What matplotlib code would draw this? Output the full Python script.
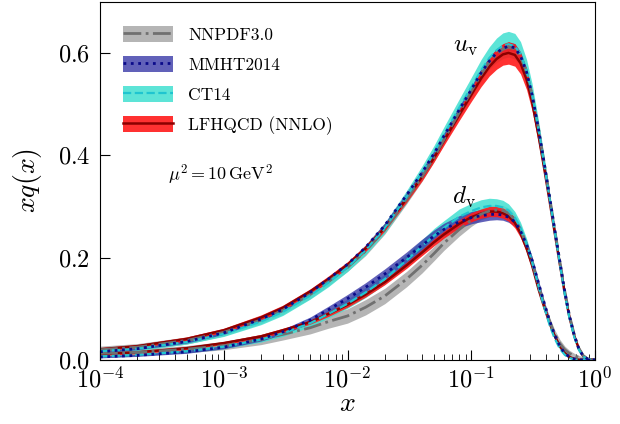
import numpy as np
import matplotlib
matplotlib.use('Agg')
import matplotlib.pyplot as plt
from matplotlib.patches import Patch
from matplotlib.lines import Line2D

plt.rcParams['font.family'] = 'serif'
plt.rcParams['font.serif'] = ['cmr10']
plt.rcParams['mathtext.fontset'] = 'cm'
plt.rcParams['axes.formatter.use_mathtext'] = True
plt.rcParams['axes.unicode_minus'] = False

# x grid and values
x = [1e-4, 2e-4, 5e-4, 1e-3, 2e-3, 3e-3, 5e-3, 7e-3, 0.01, 0.014,
     0.02, 0.03, 0.04, 0.05, 0.06, 0.08, 0.1, 0.12, 0.14, 0.16,
     0.18, 0.2, 0.225, 0.25, 0.28, 0.31, 0.35, 0.39, 0.43, 0.47,
     0.52, 0.57, 0.62, 0.68, 0.74, 0.8, 0.87, 1.0]

# u_v
uv_lfh = [0.021, 0.027, 0.041, 0.058, 0.083, 0.102, 0.134, 0.158, 0.186, 0.218,
          0.258, 0.315, 0.358, 0.395, 0.428, 0.479, 0.518, 0.550, 0.573, 0.588,
          0.597, 0.600, 0.596, 0.580, 0.548, 0.505, 0.438, 0.372, 0.310, 0.252,
          0.187, 0.130, 0.085, 0.047, 0.022, 0.008, 0.002, 0.0]
uv_lfh_err = [0.003, 0.003, 0.004, 0.004, 0.005, 0.005, 0.005, 0.006, 0.006, 0.006,
              0.006, 0.007, 0.008, 0.008, 0.009, 0.011, 0.013, 0.016, 0.018, 0.020,
              0.021, 0.022, 0.022, 0.021, 0.020, 0.018, 0.016, 0.014, 0.012, 0.010,
              0.008, 0.006, 0.004, 0.003, 0.002, 0.001, 0.0, 0.0]
uv_ct = [0.017, 0.022, 0.035, 0.051, 0.075, 0.094, 0.126, 0.151, 0.181, 0.215,
         0.258, 0.319, 0.366, 0.405, 0.440, 0.493, 0.533, 0.566, 0.590, 0.605,
         0.614, 0.617, 0.613, 0.598, 0.565, 0.520, 0.450, 0.380, 0.315, 0.255,
         0.188, 0.128, 0.083, 0.045, 0.020, 0.007, 0.0015, 0.0]
uv_ct_err = [0.004, 0.004, 0.004, 0.005, 0.006, 0.007, 0.007, 0.008, 0.008, 0.009,
             0.010, 0.012, 0.013, 0.014, 0.015, 0.017, 0.019, 0.021, 0.022, 0.024,
             0.025, 0.025, 0.025, 0.024, 0.022, 0.020, 0.017, 0.014, 0.012, 0.010,
             0.008, 0.006, 0.004, 0.003, 0.002, 0.001, 0.0005, 0.0]
uv_mmht = [0.016, 0.022, 0.036, 0.053, 0.080, 0.099, 0.132, 0.158, 0.187, 0.220,
           0.263, 0.322, 0.366, 0.403, 0.437, 0.489, 0.528, 0.561, 0.584, 0.600,
           0.609, 0.613, 0.610, 0.594, 0.562, 0.518, 0.450, 0.382, 0.318, 0.258,
           0.192, 0.133, 0.087, 0.048, 0.022, 0.008, 0.002, 0.0]
uv_mmht_err = [0.002, 0.002, 0.003, 0.003, 0.003, 0.004, 0.004, 0.004, 0.004, 0.005,
               0.005, 0.005, 0.006, 0.006, 0.006, 0.007, 0.007, 0.008, 0.008, 0.008,
               0.008, 0.008, 0.008, 0.008, 0.008, 0.007, 0.007, 0.006, 0.005, 0.005,
               0.004, 0.003, 0.002, 0.002, 0.001, 0.0005, 0.0, 0.0]
uv_nnpdf = [0.020, 0.025, 0.038, 0.054, 0.078, 0.097, 0.128, 0.153, 0.181, 0.213,
            0.255, 0.314, 0.358, 0.396, 0.430, 0.484, 0.525, 0.558, 0.582, 0.598,
            0.607, 0.611, 0.608, 0.593, 0.562, 0.518, 0.450, 0.382, 0.318, 0.258,
            0.192, 0.134, 0.088, 0.049, 0.023, 0.009, 0.002, 0.0]
uv_nnpdf_err = [0.007, 0.007, 0.007, 0.007, 0.007, 0.008, 0.008, 0.008, 0.008, 0.009,
                0.009, 0.009, 0.009, 0.009, 0.009, 0.009, 0.009, 0.009, 0.009, 0.009,
                0.009, 0.009, 0.009, 0.009, 0.009, 0.008, 0.008, 0.007, 0.007, 0.006,
                0.006, 0.005, 0.004, 0.003, 0.003, 0.002, 0.001, 0.0]

# d_v
dv_lfh = [0.012, 0.015, 0.023, 0.033, 0.046, 0.058, 0.074, 0.090, 0.108, 0.128,
          0.152, 0.185, 0.210, 0.230, 0.245, 0.266, 0.279, 0.286, 0.290, 0.290,
          0.287, 0.281, 0.268, 0.248, 0.218, 0.185, 0.138, 0.102, 0.072, 0.048,
          0.027, 0.014, 0.006, 0.002, 0.0006, 0.0001, 0.0, 0.0]
dv_lfh_err = [0.003, 0.003, 0.003, 0.003, 0.004, 0.004, 0.004, 0.005, 0.005, 0.005,
              0.005, 0.006, 0.006, 0.007, 0.007, 0.008, 0.009, 0.009, 0.010, 0.010,
              0.010, 0.010, 0.010, 0.009, 0.008, 0.008, 0.007, 0.006, 0.005, 0.004,
              0.003, 0.002, 0.001, 0.0005, 0.0, 0.0, 0.0, 0.0]
dv_ct = [0.007, 0.010, 0.017, 0.026, 0.040, 0.052, 0.072, 0.090, 0.110, 0.132,
         0.158, 0.195, 0.222, 0.243, 0.258, 0.280, 0.291, 0.298, 0.301, 0.301,
         0.298, 0.292, 0.278, 0.258, 0.227, 0.192, 0.143, 0.102, 0.068, 0.043,
         0.022, 0.010, 0.004, 0.0013, 0.0003, 0.0, 0.0, 0.0]
dv_ct_err = [0.002, 0.002, 0.003, 0.004, 0.005, 0.006, 0.007, 0.008, 0.009, 0.010,
             0.010, 0.012, 0.013, 0.014, 0.014, 0.015, 0.015, 0.015, 0.015, 0.014,
             0.014, 0.013, 0.012, 0.011, 0.010, 0.009, 0.007, 0.006, 0.004, 0.003,
             0.002, 0.001, 0.0005, 0.0, 0.0, 0.0, 0.0, 0.0]
dv_mmht = [0.006, 0.009, 0.016, 0.025, 0.041, 0.055, 0.078, 0.098, 0.120, 0.142,
           0.168, 0.200, 0.224, 0.242, 0.255, 0.270, 0.278, 0.282, 0.284, 0.285,
           0.283, 0.279, 0.270, 0.252, 0.225, 0.195, 0.150, 0.110, 0.076, 0.050,
           0.027, 0.013, 0.006, 0.002, 0.0006, 0.0001, 0.0, 0.0]
dv_mmht_err = [0.002, 0.002, 0.003, 0.003, 0.004, 0.005, 0.006, 0.007, 0.008, 0.009,
               0.010, 0.011, 0.012, 0.012, 0.012, 0.012, 0.012, 0.012, 0.011, 0.011,
               0.010, 0.010, 0.009, 0.008, 0.007, 0.007, 0.005, 0.004, 0.004, 0.003,
               0.002, 0.001, 0.0005, 0.0, 0.0, 0.0, 0.0, 0.0]
dv_nnpdf = [0.013, 0.015, 0.021, 0.028, 0.040, 0.050, 0.063, 0.075, 0.086, 0.103,
            0.125, 0.158, 0.185, 0.208, 0.228, 0.255, 0.273, 0.285, 0.291, 0.293,
            0.292, 0.287, 0.274, 0.254, 0.225, 0.192, 0.145, 0.106, 0.075, 0.052,
            0.032, 0.020, 0.013, 0.008, 0.005, 0.003, 0.001, 0.0]
dv_nnpdf_err = [0.006, 0.006, 0.007, 0.008, 0.010, 0.011, 0.012, 0.013, 0.014, 0.015,
                0.015, 0.015, 0.015, 0.014, 0.014, 0.013, 0.012, 0.011, 0.011, 0.011,
                0.010, 0.010, 0.010, 0.010, 0.009, 0.009, 0.009, 0.008, 0.008, 0.008,
                0.008, 0.007, 0.006, 0.005, 0.004, 0.003, 0.001, 0.0]

sets = [
    # name, uv, uv_err, dv, dv_err, band colour, band alpha, line colour, line style, line width
    ('NNPDF3.0', uv_nnpdf, uv_nnpdf_err, dv_nnpdf, dv_nnpdf_err, '#a8a8a8', 0.85, '#707070', '-.', 2.0),
    ('CT14', uv_ct, uv_ct_err, dv_ct, dv_ct_err, '#40e0d0', 0.85, '#1fc5d0', '--', 1.6),
    ('MMHT2014', uv_mmht, uv_mmht_err, dv_mmht, dv_mmht_err, '#3a3aa8', 0.8, '#0a0a8a', ':', 2.0),
    ('LFHQCD (NNLO)', uv_lfh, uv_lfh_err, dv_lfh, dv_lfh_err, '#ff1a1a', 0.9, '#8b0000', '-', 1.8),
]

fig = plt.figure(figsize=(6.2, 4.24), dpi=100)
ax = fig.add_axes([0.1613, 0.151, 0.7984, 0.845])

xa = np.array(x)
for name, uv, uve, dv, dve, bc, ba, lc, ls, lw in sets:
    for c, e in ((uv, uve), (dv, dve)):
        c = np.array(c)
        e = np.array(e)
        ax.fill_between(xa, c - e, c + e, color=bc, alpha=ba, lw=0)

line_order = [3, 0, 1, 2]
for i in line_order:
    name, uv, uve, dv, dve, bc, ba, lc, ls, lw = sets[i]
    ax.plot(xa, uv, color=lc, ls=ls, lw=lw)
    ax.plot(xa, dv, color=lc, ls=ls, lw=lw)

ax.set_xscale('log')
ax.set_xlim(1e-4, 1)
ax.set_ylim(0, 0.7)
ax.set_yticks([0.0, 0.2, 0.4, 0.6])
ax.set_yticklabels([r'$0.0$', r'$0.2$', r'$0.4$', r'$0.6$'])
ax.tick_params(which='both', direction='in', labelsize=17.5)
ax.tick_params(which='major', length=7)
ax.tick_params(which='minor', length=4)
ax.tick_params(axis='x', pad=5)
ax.tick_params(axis='y', pad=7)
ax.set_xlabel(r'$x$', fontsize=20, labelpad=-1)
ax.set_ylabel(r'$xq(x)$', fontsize=20, labelpad=10)

ax.text(0.713, 0.86, r'$u_{\rm v}$', transform=ax.transAxes, fontsize=18)
ax.text(0.711, 0.435, r'$d_{\rm v}$', transform=ax.transAxes, fontsize=18)
ax.text(0.137, 0.5, r'$\mu^2 = 10\,{\rm GeV}^2$', transform=ax.transAxes, fontsize=13)

leg_order = [0, 2, 1, 3]
handles = []
labels = []
for i in leg_order:
    name, uv, uve, dv, dve, bc, ba, lc, ls, lw = sets[i]
    handles.append((Patch(facecolor=bc, alpha=ba, lw=0), Line2D([], [], color=lc, ls=ls, lw=lw)))
    labels.append(name)
ax.legend(handles, labels, loc='upper left', frameon=False, fontsize=12.5,
          handlelength=2.9, handleheight=1.05, labelspacing=0.75,
          bbox_to_anchor=(0.015, 0.975), borderaxespad=0.5, handletextpad=0.85)

fig.savefig('out.png', dpi=100)
